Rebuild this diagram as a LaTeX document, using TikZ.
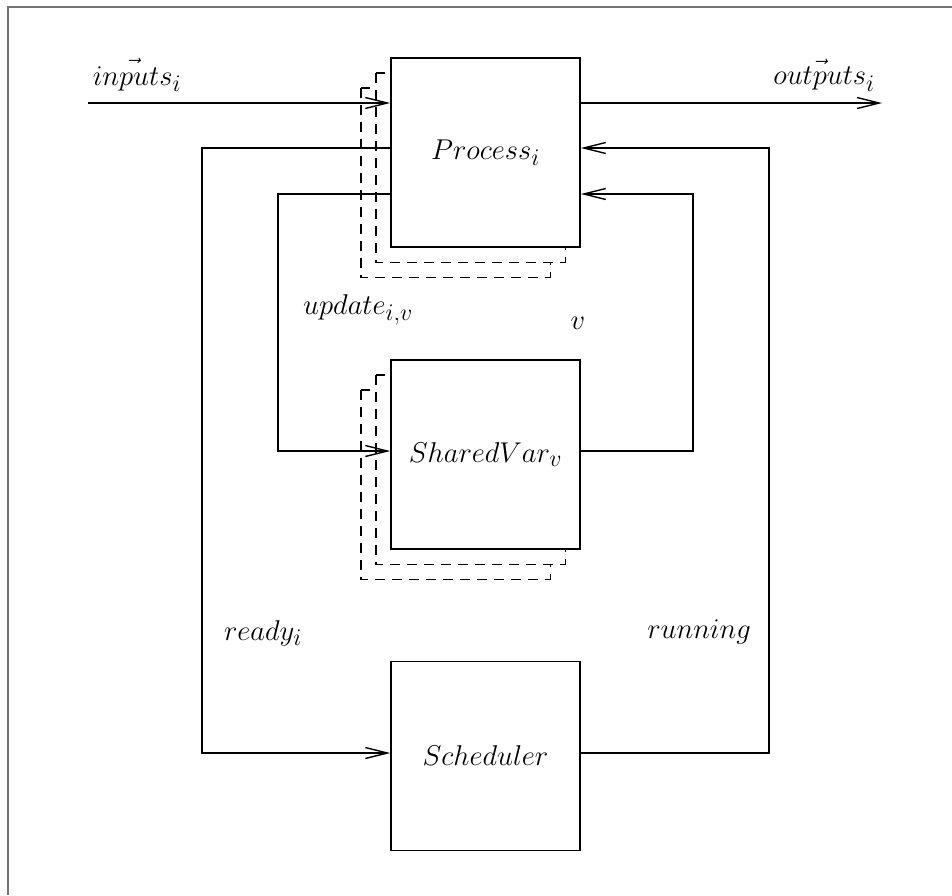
\documentclass[tikz,border=0pt]{standalone}
\usetikzlibrary{arrows.meta,calc}

% math labels, enlarged beyond the largest fixed math size
\newcommand{\lbltext}[1]{\scalebox{1.15}{$#1$}}

\tikzset{
  box/.style={draw, fill=white, line width=1.6pt, minimum width=189pt, minimum height=189pt,
              inner sep=0pt, font=\fontsize{24.88}{30}\selectfont},
  ghost/.style={draw, fill=white, dash pattern=on 10pt off 7pt, line width=1.4pt},
  conn/.style={line width=1.4pt, -{Straight Barb[length=22pt,width=11pt,line width=1.4pt]}},
  lbl/.style={inner sep=0pt, font=\fontsize{24.88}{30}\selectfont},
  frame/.style={draw=black!55, line width=2pt}
}

\newcommand{\stackshadow}[1]{%
  \draw[ghost] ($(#1.north west)+(-30,30)$) rectangle ($(#1.south east)+(-30,30)$);
  \draw[ghost] ($(#1.north west)+(-15,15)$) rectangle ($(#1.south east)+(-15,15)$);
}

\begin{document}
\begin{tikzpicture}[x=1pt,y=-1pt]
  \useasboundingbox (0,0) rectangle (952,895);

  % open frame on the left and top
  \draw[frame] (8,895) -- (8,7) -- (952,7);

  % box positions (only used to place the stacked outlines first)
  \coordinate (pc) at (485.5,152.5);
  \coordinate (sc) at (485.5,454.5);

  % stacked outlines behind the process and shared-variable boxes
  \path (pc) node[minimum width=189pt, minimum height=189pt, inner sep=0pt] (pghost) {};
  \path (sc) node[minimum width=189pt, minimum height=189pt, inner sep=0pt] (sghost) {};
  \stackshadow{pghost}
  \stackshadow{sghost}

  % main boxes
  \node[box] (proc)  at (pc) {\lbltext{Process_i}};
  \node[box] (shv)   at (sc) {\lbltext{SharedVar_v}};
  \node[box] (sched) at (485.5,756) {\lbltext{Scheduler}};

  % connector bend points
  \coordinate (inL)  at (88,103);
  \coordinate (outR) at (882,103);
  \coordinate (rdy)  at (202,148);
  \coordinate (upd)  at (278,194);
  \coordinate (vv)   at (693,194);
  \coordinate (run)  at (769,148);

  % connectors
  \draw[conn] (inL) -- (inL -| proc.west);
  \draw[conn] (outR -| proc.east) -- (outR);
  \draw[conn] (rdy -| proc.west) -- (rdy) |- ([yshift=3pt]sched.west);
  \draw[conn] (upd -| proc.west) -- (upd) |- ([yshift=3.5pt]shv.west);
  \draw[conn] ([yshift=3.5pt]shv.east) -| (vv) -- (vv -| proc.east);
  \draw[conn] ([yshift=3pt]sched.east) -| (run) -- (run -| proc.east);

  % labels
  \node[lbl] (linputs)  at (137,75)  {\lbltext{\vec{inputs}_i}};
  \node[lbl] (loutputs) at (824,75)  {\lbltext{\vec{outputs}_i}};
  \node[lbl] (lupdate)  at (358,310) {\lbltext{update_{i,v}}};
  \node[lbl] (lv)       at (578,323) {\lbltext{v}};
  \node[lbl] (lready)   at (263,633) {\lbltext{ready_i}};
  \node[lbl] (lrunning) at (699,632) {\lbltext{running}};
\end{tikzpicture}
\end{document}
